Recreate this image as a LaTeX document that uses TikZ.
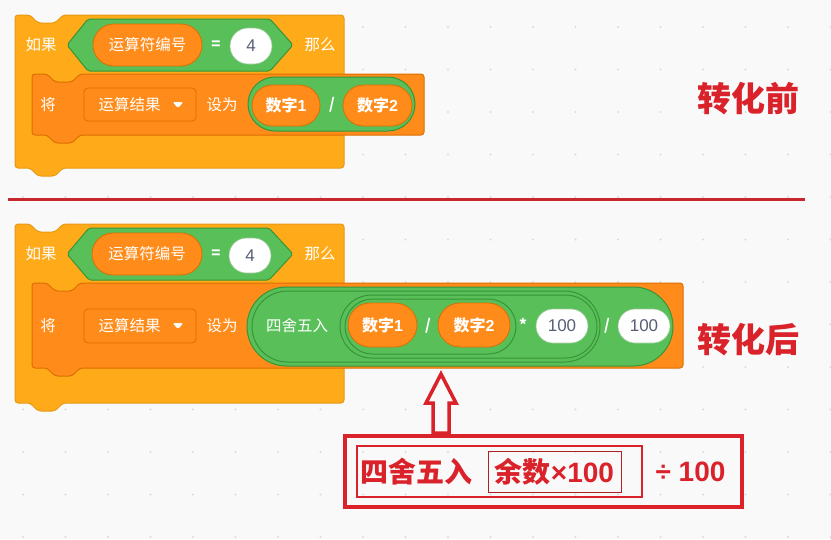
\documentclass[tikz,border=0pt]{standalone}
\usepackage{fontspec}
\newfontfamily\cjk{Noto Sans CJK SC}
\newfontfamily\lsans{Liberation Sans}
\definecolor{bg}{HTML}{F9F9F9}
\definecolor{dotc}{HTML}{DCDCDC}
\definecolor{ctrlF}{HTML}{FFAB19}
\definecolor{ctrlD}{HTML}{E69A17}
\definecolor{varF}{HTML}{FF8C1A}
\definecolor{varD}{HTML}{DB6E00}
\definecolor{grnF}{HTML}{59C059}
\definecolor{grnD}{HTML}{389438}
\definecolor{txtG}{HTML}{575E75}
\definecolor{redA}{RGB}{218,34,42}
\definecolor{redB}{RGB}{200,40,45}
\tikzset{
  blk/.style={line width=1pt, rounded corners=3pt},
  ctrlblk/.style={blk, fill=ctrlF, draw=ctrlD},
  varblk/.style={blk, fill=varF, draw=varD},
  wtxt/.style={text=white, inner sep=0pt, font=\cjk\fontsize{15.5}{15.5}\selectfont},
  wbold/.style={text=white, inner sep=0pt, font=\cjk\bfseries\fontsize{15}{15}\selectfont},
  opill/.style={draw=varD, fill=varF, line width=0.8pt, inner sep=0pt, text=white, font=\cjk\bfseries\fontsize{16}{16}\selectfont},
  gpill/.style={draw=grnD, fill=grnF, line width=1pt, inner sep=0pt},
  wpill/.style={draw=grnD!50, fill=white, line width=0.6pt, inner sep=0pt, text=txtG, font=\lsans\fontsize{17}{17}\selectfont},
  ddbox/.style={draw=varD, fill=varF, line width=0.8pt, rounded corners=4pt, inner sep=0pt},
  redtxt/.style={text=redA, inner sep=0pt, font=\cjk\bfseries\fontsize{28}{28}\selectfont},
  bigred/.style={text=redA, inner sep=0pt, font=\cjk\bfseries\fontsize{34}{34}\selectfont},
}
\newcommand{\arialb}[1]{{\lsans\bfseries #1}}
\begin{document}
\begin{tikzpicture}[x=1pt,y=-1pt]
\useasboundingbox (0,0) rectangle (831,539);
\fill[bg] (0,0) rectangle (831,539);
% grid dots
\foreach \i in {0,...,19}{
  \foreach \j in {0,...,12}{
    \fill[dotc] ({23+42.5*\i},{27+42.5*\j}) circle (1.1pt);
  }
}
% ================= BEFORE =================
\draw[ctrlblk] (15,15) -- (30,15) -- (38,23) -- (55,23) -- (63,15) -- (344,15) -- (344,168) -- (63,168) -- (55,176) -- (38,176) -- (30,168) -- (15,168) -- cycle;
\draw[grnD, fill=grnF, line width=1pt, rounded corners=2pt] (67,45) -- (88,19) -- (270,19) -- (293,45) -- (270,71) -- (88,71) -- cycle;
\node[wtxt] (if1) at (41,45) {如果};
\node[wtxt] (then1) at (320,45) {那么};
\node[opill, minimum width=109pt, minimum height=42pt, rounded corners=21pt] (op1) at (147.5,45) {\mdseries\fontsize{15.5}{15.5}\selectfont 运算符编号};
\node[wbold] (eq1) at (216,45) {=};
\node[wpill, minimum width=42pt, minimum height=36pt, rounded corners=18pt] (four1) at (251,46) {4};
\draw[varblk] (32,74) -- (47,74) -- (55,82) -- (72,82) -- (80,74) -- (424,74) -- (424,135) -- (80,135) -- (72,143) -- (55,143) -- (47,135) -- (32,135) -- cycle;
\node[wtxt] (set1) at (48,105) {将};
\node[ddbox, minimum width=112pt, minimum height=33pt] (dd1) at (140,104.5) {};
\node[wtxt] (ddt1) at (129.5,105) {运算结果};
\fill[white, rounded corners=1.5pt] (172.5,102) -- (183.5,102) -- (178,108) -- cycle;
\node[wtxt] (to1) at (222,105) {设为};
\node[gpill, minimum width=167pt, minimum height=54pt, rounded corners=27pt] (div1) at (331.5,104) {};
\node[opill, minimum width=68pt, minimum height=41pt, rounded corners=20.5pt] (na1) at (286,105.5) {数字\arialb{1}};
\node[wbold] (sl1) at (332,105) {/};
\node[opill, minimum width=69pt, minimum height=41pt, rounded corners=20.5pt] (nb1) at (377.5,105.5) {数字\arialb{2}};
\node[bigred] (lbl1) at (748.5,99) {转化前};
% separator
\draw[redB, line width=3pt] (8,199) -- (805,199);
% ================= AFTER =================
\draw[ctrlblk] (15,224) -- (30,224) -- (38,232) -- (55,232) -- (63,224) -- (344,224) -- (344,403) -- (63,403) -- (55,411) -- (38,411) -- (30,403) -- (15,403) -- cycle;
\draw[grnD, fill=grnF, line width=1pt, rounded corners=2pt] (67,254) -- (89,228) -- (269,228) -- (293,254) -- (269,280) -- (89,280) -- cycle;
\node[wtxt] (if2) at (41,254) {如果};
\node[wtxt] (then2) at (320,254) {那么};
\node[opill, minimum width=110pt, minimum height=42pt, rounded corners=21pt] (op2) at (147,254) {\mdseries\fontsize{15.5}{15.5}\selectfont 运算符编号};
\node[wbold] (eq2) at (216,254) {=};
\node[wpill, minimum width=42pt, minimum height=35pt, rounded corners=17.5pt] (four2) at (250,255.5) {4};
\draw[varblk] (32,283) -- (47,283) -- (55,291) -- (72,291) -- (80,283) -- (683,283) -- (683,368) -- (80,368) -- (72,376) -- (55,376) -- (47,368) -- (32,368) -- cycle;
\node[wtxt] (set2) at (48,326) {将};
\node[ddbox, minimum width=112pt, minimum height=34pt] (dd2) at (140,326) {};
\node[wtxt] (ddt2) at (129.5,326) {运算结果};
\fill[white, rounded corners=1.5pt] (172.5,323) -- (183.5,323) -- (178,329) -- cycle;
\node[wtxt] (to2) at (222,326) {设为};
\node[gpill, minimum width=426pt, minimum height=79pt, rounded corners=39.5pt] (divo) at (460,326.5) {};
\node[gpill, minimum width=348pt, minimum height=71pt, rounded corners=35.5pt] (rnd) at (426,326.5) {};
\node[wtxt] (rndt) at (297,326) {四舍五入};
\node[gpill, minimum width=257pt, minimum height=63pt, rounded corners=31.5pt] (mul) at (468.5,326.5) {};
\node[gpill, minimum width=171pt, minimum height=55pt, rounded corners=27.5pt] (divi) at (430.5,326.5) {};
\node[opill, minimum width=69pt, minimum height=44pt, rounded corners=22pt] (na2) at (382.5,325) {数字\arialb{1}};
\node[wbold] (sl2) at (428,326) {/};
\node[opill, minimum width=72pt, minimum height=44pt, rounded corners=22pt] (nb2) at (474,325) {数字\arialb{2}};
\node[wbold] (ast) at (523,324) {*};
\node[wpill, minimum width=52pt, minimum height=34pt, rounded corners=17pt] (h1) at (562,326) {100};
\node[wbold] (sl3) at (607,326) {/};
\node[wpill, minimum width=52pt, minimum height=34pt, rounded corners=17pt] (h2) at (644,326) {100};
\node[bigred] (lbl2) at (748.5,340) {转化后};
% ================= ANNOTATION =================
\draw[redA, line width=4pt] (345,436) rectangle (742,507);
\draw[redA, line width=2.5pt] (357,446) rectangle (642,497);
\draw[redB!85!black, line width=1pt] (488,451) rectangle (621,492);
\node[redtxt] (r1) at (416,472) {四舍五入};
\node[redtxt] (r2) at (554.5,472) {余数\arialb{×100}};
\node[redtxt] (r3) at (690.5,472) {\arialb{÷ 100}};
\draw[redA, line width=3.5pt, line join=miter] (441,374) -- (456,403) -- (449,403) -- (449,433) -- (433,433) -- (433,403) -- (426,403) -- cycle;
\end{tikzpicture}
\end{document}
